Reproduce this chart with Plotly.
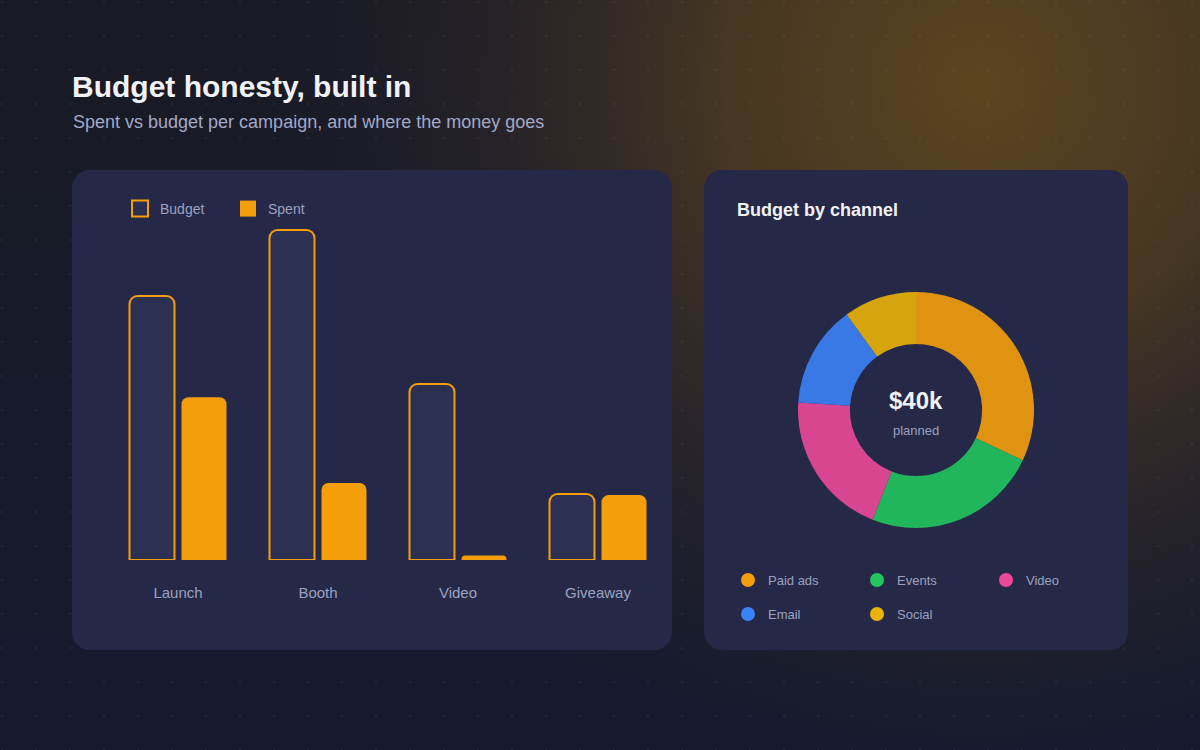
import base64
import plotly.graph_objects as go

W, H = 1200, 750

# bar chart data ($k)
campaigns = ["Launch", "Booth", "Video", "Giveaway"]
budget = [12, 15, 8, 3]
spent = [7.4, 3.5, 0.2, 2.95]

# donut data ($k)
channels = ["Paid ads", "Events", "Video", "Email", "Social"]
channel_budget = [12.8, 9.6, 8.0, 5.6, 4.0]
channel_colors = ["#f59e0b", "#22c55e", "#ec4899", "#3b82f6", "#eab308"]
channel_fills = ["rgba(245,158,11,0.9)", "rgba(34,197,94,0.9)", "rgba(236,72,153,0.9)",
                 "rgba(59,130,246,0.9)", "rgba(234,179,8,0.9)"]

ORANGE = "#f59e0b"
CARD = "#252947"
BAR_FILL = "#2c3153"
MUTED = "#9ba1c2"
FONT = "Liberation Sans, Arial, sans-serif"


def px_x(x):
    return x / W


def px_y(y):
    return 1 - y / H


# background: dark navy with a warm glow and a faint dot grid, plus the two cards
svg = f"""<svg xmlns='http://www.w3.org/2000/svg' width='{W}' height='{H}'>
<defs>
<linearGradient id='base' x1='0' y1='0' x2='0' y2='1'>
<stop offset='0' stop-color='#191a25'/><stop offset='1' stop-color='#151a2f'/>
</linearGradient>
<radialGradient id='glow' cx='980' cy='85' r='720' gradientUnits='userSpaceOnUse'>
<stop offset='0' stop-color='#5c4420' stop-opacity='1'/>
<stop offset='0.35' stop-color='#4f3c22' stop-opacity='0.85'/>
<stop offset='0.7' stop-color='#3a2e28' stop-opacity='0.35'/>
<stop offset='1' stop-color='#2a2630' stop-opacity='0'/>
</radialGradient>
<pattern id='dots' x='1' y='1' width='34' height='34' patternUnits='userSpaceOnUse'>
<circle cx='1' cy='1' r='1.1' fill='#ffffff' fill-opacity='0.06'/>
</pattern>
</defs>
<rect width='{W}' height='{H}' fill='url(#base)'/>
<rect width='{W}' height='{H}' fill='url(#glow)'/>
<rect width='{W}' height='{H}' fill='url(#dots)'/>
<rect x='72' y='170' width='600' height='480' rx='18' fill='{CARD}'/>
<rect x='704' y='170' width='424' height='480' rx='18' fill='{CARD}'/>
</svg>"""
bg_src = "data:image/svg+xml;base64," + base64.b64encode(svg.encode()).decode()

fig = go.Figure()

fig.add_trace(go.Bar(
    x=campaigns, y=budget, name="Budget", showlegend=False,
    marker=dict(color=BAR_FILL, line=dict(color=ORANGE, width=2), cornerradius=8),
))
fig.add_trace(go.Bar(
    x=campaigns, y=spent, name="Spent", showlegend=False,
    marker=dict(color=ORANGE, line=dict(width=0), cornerradius=7),
))

# legend swatches for the bars (legend-only traces)
fig.add_trace(go.Scatter(
    x=[None], y=[None], mode="markers", name="Budget", legend="legend",
    marker=dict(symbol="square", size=16, color=BAR_FILL, line=dict(color=ORANGE, width=2)),
))
fig.add_trace(go.Scatter(
    x=[None], y=[None], mode="markers", name="Spent", legend="legend",
    marker=dict(symbol="square", size=17, color=ORANGE, line=dict(width=0)),
))

fig.add_trace(go.Pie(
    labels=channels, values=channel_budget, sort=False, direction="clockwise",
    hole=0.56, marker=dict(colors=channel_fills, line=dict(width=0)),
    textinfo="none", showlegend=False,
    domain=dict(x=[px_x(916 - 118), px_x(916 + 118)], y=[px_y(410 + 118), px_y(410 - 118)]),
))

# legend entries for the donut, split over two rows
for i, (name, color) in enumerate(zip(channels, channel_colors)):
    fig.add_trace(go.Scatter(
        x=[None], y=[None], mode="markers", name=name,
        marker=dict(color=color, size=14),
        legend="legend2" if i < 3 else "legend3",
    ))

legend_common = dict(orientation="h", xanchor="left", yanchor="middle",
                     bgcolor="rgba(0,0,0,0)", itemclick=False, itemdoubleclick=False)

fig.update_layout(
    width=W, height=H,
    margin=dict(l=0, r=0, t=0, b=0),
    paper_bgcolor="#161a2c", plot_bgcolor="rgba(0,0,0,0)",
    barmode="group", bargap=0.257, bargroupgap=0.135,
    images=[dict(source=bg_src, xref="paper", yref="paper", x=0, y=1, sizex=1, sizey=1,
                 sizing="stretch", layer="below", xanchor="left", yanchor="top")],
    xaxis=dict(domain=[px_x(108), px_x(668)], showgrid=False, zeroline=False, showline=False,
               ticks="", ticklabelstandoff=22,
               tickfont=dict(family=FONT, size=15, color=MUTED), fixedrange=True),
    yaxis=dict(domain=[px_y(560), px_y(208)], range=[0, 16], visible=False, fixedrange=True),
    legend=dict(x=px_x(120), y=px_y(209), entrywidth=63,
                font=dict(family=FONT, size=14, color=MUTED), **legend_common),
    legend2=dict(x=px_x(728), y=px_y(580), entrywidth=84,
                 font=dict(family=FONT, size=13, color=MUTED), **legend_common),
    legend3=dict(x=px_x(728), y=px_y(614), entrywidth=84,
                 font=dict(family=FONT, size=13, color=MUTED), **legend_common),
    showlegend=True,
    annotations=[
        dict(text="<b>Budget honesty, built in</b>", x=px_x(70), y=px_y(86), xref="paper", yref="paper",
             xanchor="left", yanchor="middle", showarrow=False,
             font=dict(family=FONT, size=30, color="#f1f2f8")),
        dict(text="Spent vs budget per campaign, and where the money goes", x=px_x(71), y=px_y(122),
             xref="paper", yref="paper", xanchor="left", yanchor="middle", showarrow=False,
             font=dict(family=FONT, size=18, color="#a3a9c8")),
        dict(text="<b>Budget by channel</b>", x=px_x(735), y=px_y(210), xref="paper", yref="paper",
             xanchor="left", yanchor="middle", showarrow=False,
             font=dict(family=FONT, size=18, color="#f1f2f8")),
        dict(text="<b>$40k</b>", x=px_x(916), y=px_y(400), xref="paper", yref="paper",
             xanchor="center", yanchor="middle", showarrow=False,
             font=dict(family=FONT, size=24, color="#f1f2f8")),
        dict(text="planned", x=px_x(916), y=px_y(430), xref="paper", yref="paper",
             xanchor="center", yanchor="middle", showarrow=False,
             font=dict(family=FONT, size=13, color=MUTED)),
    ],
)

fig.write_html(
    "out.html",
    config={"displayModeBar": False},
    post_script="document.body.style.margin='0';document.body.style.background='#161a2c';",
)
